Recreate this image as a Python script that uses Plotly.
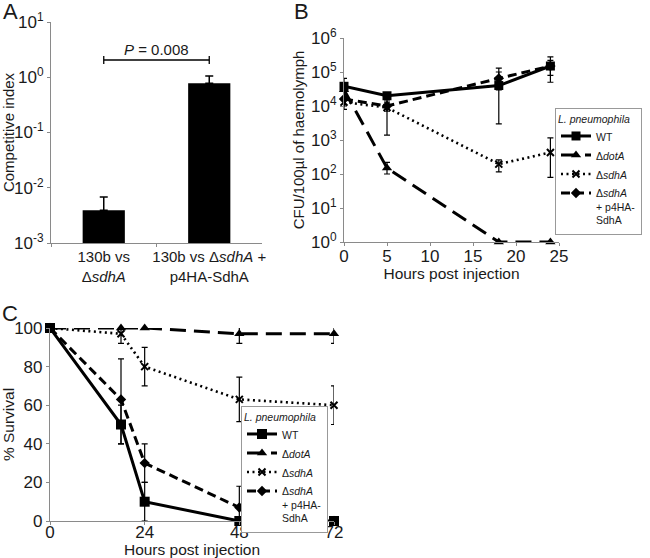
import plotly.graph_objects as go

# ---------------- data ----------------
# Panel A: competitive index
a_categories = ["130b vs<br>Δ<i>sdhA</i>", "130b vs Δ<i>sdhA</i> +<br>p4HA-SdhA"]
a_values = [0.0039, 0.78]
a_err_up = [0.0068, 1.05]
a_tickvals = [1e-3, 1e-2, 1e-1, 1e0, 1e1]
a_ticktext = ["10<sup>-3</sup>", "10<sup>-2</sup>", "10<sup>-1</sup>", "10<sup>0</sup>", "10<sup>1</sup>"]
a_pvalue = "<i>P</i> = 0.008"

# Panel B: CFU/100 µl of haemolymph
b_hours = [0, 5, 18, 24]
b_wt = [3.8e4, 2.0e4, 4.0e4, 1.5e5]
b_wt_hi = [6.5e4, 2.4e4, 1.3e5, 2.8e5]
b_wt_lo = [2.0e4, 1.7e4, 3.0e3, 5.0e4]
b_dota = [3.0e4, 1.5e2, 1.0, 1.0]
b_dota_hi = [4.0e4, 2.2e2, 1.0, 1.0]
b_dota_lo = [1.0e4, 1.0e2, 1.0, 1.0]
b_sdha = [1.3e4, 9.0e3, 1.95e2, 4.3e2]
b_sdha_hi = [1.8e4, 1.5e4, 2.6e2, 1.15e3]
b_sdha_lo = [8.0e3, 1.4e3, 1.15e2, 8.0e1]
b_comp = [1.6e4, 1.0e4, 6.5e4, 1.5e5]
b_comp_hi = [2.2e4, 1.3e4, 1.0e5, 2.2e5]
b_comp_lo = [1.1e4, 7.0e3, 3.0e4, 8.0e4]
b_tickvals = [1e0, 1e1, 1e2, 1e3, 1e4, 1e5, 1e6]
b_ticktext = ["10<sup>0</sup>", "10<sup>1</sup>", "10<sup>2</sup>", "10<sup>3</sup>",
              "10<sup>4</sup>", "10<sup>5</sup>", "10<sup>6</sup>"]
b_xticks = [0, 5, 10, 15, 20, 25]

# Panel C: % survival
c_hours = [0, 18, 24, 48, 72]
c_wt = [100, 50, 10, 0, 0]
c_wt_err = [0, 10, 10, 0, 0]
c_dota = [100, 100, 100, 97, 97]
c_dota_err = [0, 0, 0, 5, 5]
c_sdha = [100, 97, 80, 63, 60]
c_sdha_err = [0, 5, 10, 11.5, 10]
c_comp = [100, 63, 30, 7, 0]
c_comp_err_up = [0, 21, 10, 11, 0]
c_comp_err_dn = [0, 23, 10, 7, 0]
c_yticks = [0, 20, 40, 60, 80, 100]
c_xticks = [0, 24, 48, 72]

names = ["WT", "Δ<i>dotA</i>", "Δ<i>sdhA</i>", "Δ<i>sdhA</i><br>+ p4HA-<br>SdhA"]
legend_title = "<i>L. pneumophila</i>"

# ---------------- styles ----------------
FONT = "Liberation Sans, Arial, sans-serif"
AX = "#8a8a8a"
TXT = "#1a1a1a"
W, H = 650, 558


def px_x(p):
    return p / W


def px_y(p):
    return 1 - p / H


styles = [
    dict(dash="solid", symbol="square", msize=9, width=3),
    dict(dash="16px,8px", symbol="triangle-up", msize=9, width=3),
    dict(dash="2px,3.5px", symbol="x-thin-open", msize=7, width=2.6),
    dict(dash="9px,5px", symbol="diamond", msize=8, width=3),
]

fig = go.Figure()

# Panel A bars
fig.add_trace(go.Bar(
    x=a_categories, y=a_values, width=0.4, marker=dict(color="black", line=dict(width=0)),
    error_y=dict(type="data", symmetric=False,
                 array=[u - v for u, v in zip(a_err_up, a_values)],
                 arrayminus=[0, 0], color="black", thickness=1.5, width=4),
    showlegend=False, xaxis="x", yaxis="y"))

# Panel B lines
b_series = [(b_wt, b_wt_hi, b_wt_lo), (b_dota, b_dota_hi, b_dota_lo),
            (b_sdha, b_sdha_hi, b_sdha_lo), (b_comp, b_comp_hi, b_comp_lo)]
for i, (vals, hi, lo) in enumerate(b_series):
    st = styles[i]
    fig.add_trace(go.Scatter(
        x=b_hours, y=vals, name=names[i], mode="lines+markers",
        line=dict(color="black", width=st["width"], dash=st["dash"]),
        marker=dict(symbol=st["symbol"], size=st["msize"], color="black",
                    line=dict(color="black", width=2 if i == 2 else 0)),
        error_y=dict(type="data", symmetric=False,
                     array=[h - v for h, v in zip(hi, vals)],
                     arrayminus=[v - l for v, l in zip(vals, lo)],
                     color="black", thickness=1.2, width=3),
        cliponaxis=False, xaxis="x2", yaxis="y2", legend="legend"))

# Panel C lines
c_series = [(c_wt, c_wt_err, c_wt_err), (c_dota, c_dota_err, c_dota_err),
            (c_sdha, c_sdha_err, c_sdha_err), (c_comp, c_comp_err_up, c_comp_err_dn)]
for i, (vals, up, dn) in enumerate(c_series):
    st = styles[i]
    fig.add_trace(go.Scatter(
        x=c_hours, y=vals, name=names[i], mode="lines+markers",
        line=dict(color="black", width=st["width"], dash=st["dash"]),
        marker=dict(symbol=st["symbol"], size=st["msize"] + (1 if i == 0 else 0), color="black",
                    line=dict(color="black", width=2 if i == 2 else 0)),
        error_y=dict(type="data", symmetric=False, array=up, arrayminus=dn,
                     color="black", thickness=1.2, width=3),
        cliponaxis=False, xaxis="x3", yaxis="y3", legend="legend2"))

axis_common = dict(showline=True, linecolor=AX, linewidth=1.2, ticks="outside",
                   tickcolor=AX, ticklen=3, tickwidth=1, showgrid=False, zeroline=False,
                   automargin=False, tickangle=0,
                   tickfont=dict(size=17, color=TXT, family=FONT))

legend_common = dict(xanchor="left", yanchor="top", bordercolor="#999", borderwidth=1,
                     bgcolor="white", font=dict(size=10.5, color=TXT), valign="top",
                     title=dict(text=legend_title, font=dict(size=10.5)),
                     tracegroupgap=0, itemwidth=30)

fig.update_layout(
    width=W, height=H, margin=dict(l=0, r=0, t=0, b=0, autoexpand=False),
    paper_bgcolor="white", plot_bgcolor="white",
    font=dict(family=FONT, color=TXT),
    xaxis=dict(axis_common, domain=[px_x(51), px_x(262)], type="category",
               range=[-0.5, 1.5], tickson="boundaries",
               tickfont=dict(size=15, color=TXT, family=FONT), anchor="y"),
    yaxis=dict(axis_common, domain=[px_y(243), px_y(22)], type="log", range=[-3, 1],
               tickvals=a_tickvals, ticktext=a_ticktext, anchor="x",
               title=dict(text="Competitive index", font=dict(size=15), standoff=3)),
    xaxis2=dict(axis_common, domain=[px_x(344), px_x(559)], range=[0, 25],
                tickvals=b_xticks, anchor="y2", ticklabelstandoff=-5,
                title=dict(text="Hours post injection", font=dict(size=15.5), standoff=0)),
    yaxis2=dict(axis_common, domain=[px_y(242), px_y(38)], type="log", range=[0, 6],
                tickvals=b_tickvals, ticktext=b_ticktext, anchor="x2",
                title=dict(text="CFU/100µl of haemolymph", font=dict(size=15), standoff=2)),
    xaxis3=dict(axis_common, domain=[px_x(50), px_x(334)], range=[0, 72],
                tickvals=c_xticks, anchor="y3", ticklabelstandoff=-8,
                title=dict(text="Hours post injection", font=dict(size=15.5), standoff=2)),
    yaxis3=dict(axis_common, domain=[px_y(521), px_y(328)], range=[0, 100],
                tickvals=c_yticks, anchor="x3",
                title=dict(text="% Survival", font=dict(size=15.5), standoff=4)),
    legend=dict(legend_common, x=px_x(555), y=px_y(108)),
    legend2=dict(legend_common, x=px_x(241), y=px_y(406)),
)

# P-value bracket (panel A)
yb = px_y(60)
fig.add_shape(type="line", xref="x", yref="paper", x0=0, x1=1, y0=yb, y1=yb,
              line=dict(color="black", width=1.3))
for xv in [0, 1]:
    fig.add_shape(type="line", xref="x", yref="paper", x0=xv, x1=xv,
                  y0=yb - 4 / H, y1=yb + 4 / H, line=dict(color="black", width=1.3))
fig.add_annotation(x=0.5, xref="x", y=px_y(49), yref="paper", text=a_pvalue,
                   xanchor="center", yanchor="middle",
                   showarrow=False, font=dict(size=15, color=TXT))

# Panel letters
for letter, lx, ly in [("A", 10, 12), ("B", 301, 11), ("C", 10, 313)]:
    fig.add_annotation(x=px_x(lx), y=px_y(ly), xref="paper", yref="paper", text=letter,
                       xanchor="center", yanchor="middle",
                       showarrow=False, font=dict(size=22, color=TXT))

fig.write_html("out.html", config={"displayModeBar": False},
               post_script="document.body.style.margin='0';document.body.style.overflow='hidden';")
